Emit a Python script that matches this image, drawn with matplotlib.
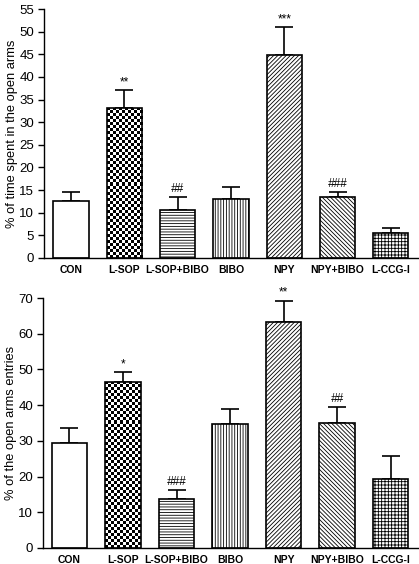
import numpy as np
import matplotlib
matplotlib.use("Agg")
import matplotlib.pyplot as plt

categories = ["CON", "L-SOP", "L-SOP+BIBO", "BIBO", "NPY", "NPY+BIBO", "L-CCG-I"]

time_mean = [12.7, 33.2, 10.6, 13.1, 44.8, 13.5, 5.6]
time_err = [1.9, 3.9, 2.9, 2.6, 6.2, 1.1, 1.1]
time_marks = ["", "**", "##", "", "***", "###", ""]

entries_mean = [29.3, 46.5, 13.6, 34.8, 63.3, 35.1, 19.4]
entries_err = [4.2, 2.7, 2.6, 4.0, 5.9, 4.4, 6.4]
entries_marks = ["", "*", "###", "", "**", "##", ""]

hatches = [None, "checker", "------", "||||||", "////////", "\\\\\\\\\\\\\\\\", "+++++"]

plt.rcParams["font.family"] = ["Liberation Sans", "DejaVu Sans"]
plt.rcParams["hatch.linewidth"] = 0.6

fig = plt.figure(figsize=(4.19, 5.64), dpi=100)
ax1 = fig.add_axes([44 / 419, 1 - 258 / 564, 374 / 419, 249 / 564])
ax2 = fig.add_axes([43 / 419, 1 - 548 / 564, 375 / 419, 250 / 564])


def draw(ax, means, errs, marks, ymax, step, ylabel, xleft):
    x = np.arange(len(categories))
    ax.set_xlim(xleft, 6.51)
    ax.set_ylim(0, ymax)
    bars = []
    for i, (m, h) in enumerate(zip(means, hatches)):
        face = "none" if h == "checker" else "white"
        b = ax.bar(x[i], m, width=0.66, facecolor=face, edgecolor="black",
                   linewidth=1.2, hatch=None if h in (None, "checker") else h, zorder=2)
        bars.append(b[0])
    ax.errorbar(x, means, yerr=[np.zeros(len(means)), errs], fmt="none",
                ecolor="black", elinewidth=1.2, capsize=6.5, capthick=1.2, zorder=1)
    # checkerboard for L-SOP
    fig.canvas.draw()
    rect = bars[1]
    x0, y0 = rect.get_x(), rect.get_y()
    w, hgt = rect.get_width(), rect.get_height()
    p0 = ax.transData.transform((x0, y0))
    p1 = ax.transData.transform((x0 + w, y0 + hgt))
    nx = max(1, int(round((p1[0] - p0[0]) / 3.0)))
    ny = max(1, int(round((p1[1] - p0[1]) / 3.0)))
    board = (np.indices((ny, nx)).sum(axis=0) % 2).astype(float)
    im = ax.imshow(board, cmap="gray", extent=(x0, x0 + w, y0, y0 + hgt),
                   aspect="auto", interpolation="nearest", zorder=1.5, vmin=0, vmax=1)
    im.set_clip_path(rect)
    ax.set_xlim(xleft, 6.51)
    ax.set_ylim(0, ymax)
    for i, mk in enumerate(marks):
        if mk:
            ax.text(x[i], means[i] + errs[i] + ymax * 0.008, mk, ha="center", va="bottom",
                    fontsize=8.5, style="italic" if "#" in mk else "normal")
    ax.spines["top"].set_visible(False)
    ax.spines["right"].set_visible(False)
    ax.spines["left"].set_linewidth(1.0)
    ax.spines["bottom"].set_linewidth(1.0)
    ax.set_yticks(np.arange(0, ymax + 0.1, step))
    ax.tick_params(axis="y", labelsize=9.5, length=4, width=1.0, pad=3)
    ax.set_xticks(x)
    ax.set_xticklabels(categories, fontsize=7.5, fontweight="bold")
    ax.tick_params(axis="x", length=0, pad=5)
    ax.set_ylabel(ylabel, fontsize=9.3, labelpad=1)


draw(ax1, time_mean, time_err, time_marks, 55, 5, "% of time spent in the open arms", -0.507)
draw(ax2, entries_mean, entries_err, entries_marks, 70, 10, "% of the open arms entries", -0.494)

fig.savefig("out.png", dpi=100)
